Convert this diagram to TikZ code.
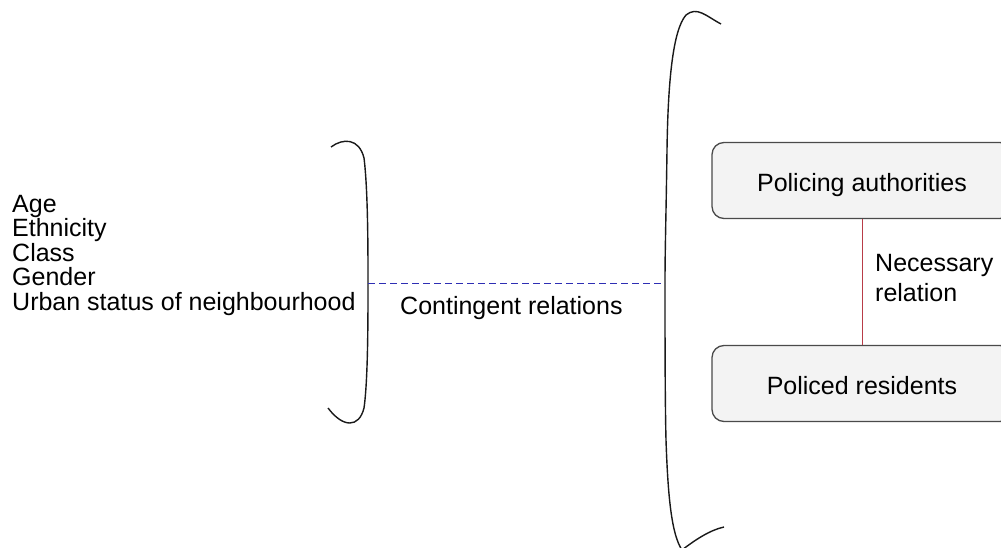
\documentclass[tikz,border=0pt]{standalone}
\usepackage{fontspec}
\setmainfont{Liberation Sans}
\definecolor{boxfill}{HTML}{F3F3F3}
\definecolor{boxborder}{HTML}{4A4A4A}
\definecolor{contblue}{HTML}{2E2EB4}
\definecolor{necred}{HTML}{B83C48}
\begin{document}
\begin{tikzpicture}[x=1pt,y=-1pt,
  txt/.style={inner sep=0pt, text=black, font=\fontsize{25}{24.4}\selectfont},
  rbox/.style={draw=boxborder, fill=boxfill, rounded corners=12pt, line width=1.3pt,
    minimum width=300pt, minimum height=76pt, inner sep=0pt, text=black,
    text height=22pt, text depth=0pt, font=\fontsize{25}{30}\selectfont},
  bracestroke/.style={draw=black!90, line width=1.4pt},
  contline/.style={draw=contblue, line width=1pt, dash pattern=on 7pt off 4pt},
  necline/.style={draw=necred, line width=1pt},
]
\useasboundingbox (0,0) rectangle (1001,548);
\clip (0,0) rectangle (1001,548);

% left list
\node[txt, anchor=north west, align=left] (factors) at (12,195)
  {Age\\Ethnicity\\Class\\Gender\\Urban status of neighbourhood};

% small brace
\draw[bracestroke] (331,147) .. controls (343,138) and (359,138) .. (364,158)
  .. controls (368,190) and (368,250) .. (368,283) coordinate (sbmid)
  .. controls (368,320) and (368,380) .. (364,408)
  .. controls (359,428) and (343,428) .. (328,408);

% big brace
\draw[bracestroke] (721,24) .. controls (706,16) and (697,6) .. (686,15)
  .. controls (673,30) and (668,80) .. (667,150)
  .. controls (666,220) and (665,250) .. (665,283) coordinate (bbmid)
  .. controls (665,330) and (665,400) .. (666,440)
  .. controls (668,500) and (672,535) .. (682,550)
  .. controls (695,540) and (710,530) .. (724,527);

% contingent relation
\draw[contline] (sbmid) -- (bbmid);
\node[txt, anchor=base west] (cont) at (400,314) {Contingent relations};

% boxes
\node[rbox] (auth) at (862,180.5) {Policing authorities};
\node[rbox] (res) at (862,383.5) {Policed residents};
\draw[necline] (auth.south) -- (res.north);
\node[txt, anchor=north west, align=left, font=\fontsize{25}{30}\selectfont] (nec) at (875,254)
  {Necessary\\relation};
\end{tikzpicture}
\end{document}
